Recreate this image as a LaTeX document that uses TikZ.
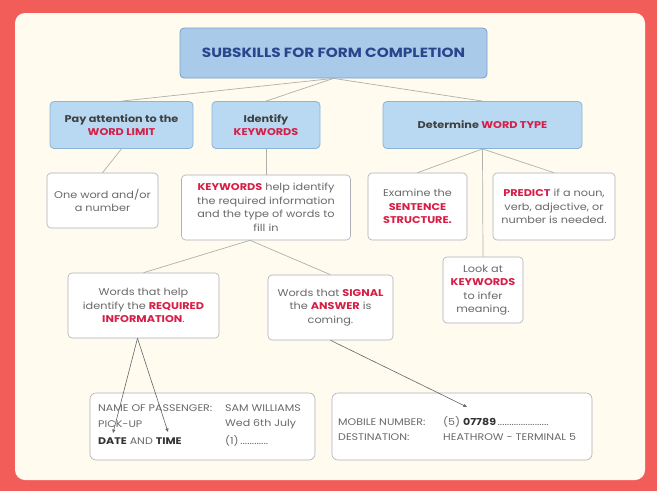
\documentclass[tikz,border=0pt]{standalone}
\usepackage{fontspec}
\setmainfont{Poppins}[FakeStretch=1.15]
\usetikzlibrary{calc,arrows.meta}
\definecolor{bgred}{RGB}{242,93,90}
\definecolor{cream}{RGB}{255,251,238}
\definecolor{titlefill}{RGB}{170,202,234}
\definecolor{titledraw}{RGB}{120,160,205}
\definecolor{bluefill}{RGB}{185,217,243}
\definecolor{bluedraw}{RGB}{140,180,215}
\definecolor{titletext}{RGB}{40,70,140}
\definecolor{hired}{RGB}{214,30,70}
\definecolor{bodytext}{RGB}{105,105,105}
\definecolor{whitedraw}{RGB}{175,175,185}
\definecolor{linkcol}{RGB}{175,175,175}
\definecolor{arrcol}{RGB}{100,100,110}
\newcommand{\hl}[1]{\textcolor{hired}{\textbf{#1}}}
\begin{document}
\begin{tikzpicture}[x=1pt,y=-1pt,
  titlebox/.style={draw=titledraw, fill=titlefill, line width=0.8pt, rounded corners=4pt,
    align=center, inner sep=0pt, text=titletext, font=\fontsize{13.3}{16}\selectfont\bfseries},
  bluebox/.style={draw=bluedraw, fill=bluefill, line width=0.8pt, rounded corners=4pt,
    align=center, inner sep=0pt, text=black!75, font=\fontsize{9.8}{13.5}\selectfont\bfseries},
  whitebox/.style={draw=whitedraw, fill=white, line width=0.6pt, rounded corners=4pt,
    align=center, inner sep=0pt, text=bodytext, font=\fontsize{9.8}{13.5}\selectfont},
  formbox/.style={draw=whitedraw, fill=white, line width=0.6pt, rounded corners=6pt, inner sep=0pt},
  formtext/.style={anchor=west, inner sep=0pt, text=bodytext, font=\fontsize{9.6}{11}\selectfont},
  link/.style={draw=linkcol, line width=0.7pt},
  pointer/.style={draw=arrcol, line width=0.6pt, -{Triangle[length=3.5pt,width=3pt]}}
]
\useasboundingbox (0,0) rectangle (657,491);
\fill[bgred] (0,0) rectangle (657,491);
\fill[cream, rounded corners=10pt] (15,13) rectangle (645,480);

% top
\node[titlebox, minimum width=307pt, minimum height=50pt] (title) at (333.5,53) {SUBSKILLS FOR FORM COMPLETION};

% second row
\node[bluebox, minimum width=143pt, minimum height=47pt] (pay) at (121.5,125) {Pay attention to the\\\hl{WORD LIMIT}};
\node[bluebox, minimum width=108pt, minimum height=47pt] (ident) at (266,125) {Identify\\\hl{KEYWORDS}};
\node[bluebox, minimum width=199pt, minimum height=47pt] (determ) at (482.5,125) {Determine \hl{WORD TYPE}};

% third row
\node[whitebox, minimum width=111pt, minimum height=55pt] (oneword) at (102.5,200.5) {One word and/or\\a number};
\node[whitebox, minimum width=169pt, minimum height=65pt] (kw) at (266,207.5) {\hl{KEYWORDS} help identify\\the required information\\and the type of words to\\fill in};
\node[whitebox, minimum width=99pt, minimum height=67pt] (examine) at (417.5,206.5) {Examine the\\\hl{SENTENCE}\\\hl{STRUCTURE.}};
\node[whitebox, minimum width=122pt, minimum height=67pt] (predict) at (554,206.5) {\hl{PREDICT} if a noun,\\verb, adjective, or\\number is needed.};
\node[whitebox, minimum width=80pt, minimum height=66pt] (look) at (483,290) {Look at\\\hl{KEYWORDS}\\to infer\\meaning.};

% fourth row
\node[whitebox, minimum width=151pt, minimum height=65pt] (req) at (143.5,305.5) {Words that help\\identify the \hl{REQUIRED}\\\hl{INFORMATION}.};
\node[whitebox, minimum width=125pt, minimum height=65pt] (signal) at (330.5,307.5) {Words that \hl{SIGNAL}\\the \hl{ANSWER} is\\coming.};

% forms
\node[formbox, minimum width=225pt, minimum height=67pt] (form1) at (202.5,426.5) {};
\node[formtext] (f1a) at (98,408) {NAME OF PASSENGER:};
\node[formtext] (f1b) at (225,408) {SAM WILLIAMS};
\node[formtext] (f1c) at (98,424) {PICK-UP};
\node[formtext] (f1d) at (225,424) {Wed 6th July};
\node[formtext] (f1e) at (98,441) {\textcolor{black!80}{\textbf{DATE}} AND \textcolor{black!80}{\textbf{TIME}}};
\node[formtext] (f1f) at (225,441) {(1)\,............};

\node[formbox, minimum width=260pt, minimum height=67pt] (form2) at (462,426.5) {};
\node[formtext] (f2a) at (338,422) {MOBILE NUMBER:};
\node[formtext] (f2b) at (443,422) {(5) \textcolor{black!80}{\textbf{07789}}\,......................};
\node[formtext] (f2c) at (338,437) {DESTINATION:};
\node[formtext] (f2d) at (443,437) {HEATHROW - TERMINAL 5};

% connectors
\coordinate (tb) at ($(title.south)+(0,0)$);
\draw[link] (tb) -- (pay.north);
\draw[link] (tb) -- (ident.north);
\draw[link] (tb) -- (determ.north);
\draw[link] (pay.south) -- (oneword.north);
\draw[link] (ident.south) -- (kw.north);
\draw[link] (determ.south) -- (examine.north);
\draw[link] (determ.south) -- (look.north);
\draw[link] (determ.south) -- (predict.north);
\coordinate (kwb) at ($(kw.south)+(-16,0)$);
\draw[link] (kwb) -- (req.north);
\draw[link] (kwb) -- (signal.north);

\coordinate (reqb) at ($(req.south)+(-6,0)$);
\coordinate (p1) at (113,433);
\coordinate (p2) at (168,432);
\coordinate (p3) at (467,407);
\draw[pointer] (reqb) -- (p1);
\draw[pointer] (reqb) -- (p2);
\draw[pointer] (signal.south) -- (p3);
\end{tikzpicture}
\end{document}
